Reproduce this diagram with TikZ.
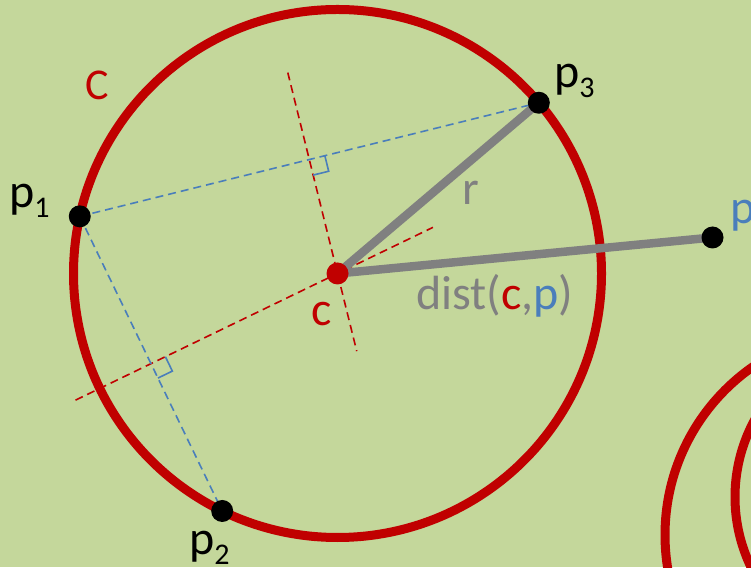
\documentclass[tikz,border=0pt]{standalone}
\usepackage{fontspec}
\setmainfont{Carlito}
\usetikzlibrary{calc}
\definecolor{bgc}{RGB}{196,215,155}
\definecolor{cred}{RGB}{192,0,0}
\definecolor{cblue}{RGB}{74,126,187}
\definecolor{cgray}{RGB}{128,128,128}
\newcommand\mysub[1]{\raisebox{-10pt}{\fontsize{30}{30}\selectfont #1}}
\pgfdeclarelayer{backlines}
\pgfsetlayers{backlines,main}
\begin{document}
\begin{tikzpicture}[x=1pt,y=1pt,
  bigcircle/.style={draw=cred,line width=9pt},
  bisector/.style={draw=cred,line width=1.6pt,dash pattern=on 8pt off 5pt},
  chord/.style={draw=cblue,line width=1.6pt,dash pattern=on 8pt off 5pt},
  rmark/.style={draw=cblue,line width=1.6pt},
  radiusline/.style={draw=cgray,line width=8.5pt},
  ptdot/.style={circle,fill=black,minimum size=22pt,inner sep=0pt},
  cdot/.style={circle,fill=cred,minimum size=22pt,inner sep=0pt},
  lbl/.style={font=\fontsize{48}{48}\selectfont,inner sep=0pt,anchor=base west}]
\useasboundingbox (0,0) rectangle (751,567);
\begin{pgfonlayer}{backlines}
\fill[bgc] (0,0) rectangle (751,567);
\end{pgfonlayer}
% geometry
\coordinate (c) at (337.5,293.5);
\coordinate (p1) at ($(c)+(167.5:264)$);
\coordinate (p2) at ($(c)+(244.1:264)$);
\coordinate (p3) at ($(c)+(40.3:264)$);
\coordinate (p) at (712.5,329.5);
\coordinate (m1) at ($(p1)!0.5!(p3)$);
\coordinate (m2) at ($(p1)!0.5!(p2)$);
\coordinate (b1a) at ($(c)!207pt!(m1)$);
\coordinate (b1b) at ($(c)!-80pt!(m1)$);
\coordinate (b2a) at ($(c)!291pt!(m2)$);
\coordinate (b2b) at ($(c)!-106pt!(m2)$);
% dots
\node[ptdot] (P1) at (p1) {};
\node[ptdot] (P2) at (p2) {};
\node[ptdot] (P3) at (p3) {};
\node[ptdot] (P) at (p) {};
\node[cdot] (C) at (c) {};
\begin{pgfonlayer}{backlines}
% circles
\draw[bigcircle] (c) circle (264);
\draw[bigcircle] (870,32) circle (205);
\draw[bigcircle] (896,70) circle (161);
% bisectors
\draw[bisector] (b1a) -- (b1b);
\draw[bisector] (b2a) -- (b2b);
% chords
\draw[chord] (P1.center) -- (P3.center);
\draw[chord] (P1.center) -- (P2.center);
% right angle marks
\coordinate (r1a) at ($(m1)!16pt!(p3)$);
\coordinate (r1c) at ($(m1)!16pt!(c)$);
\draw[rmark] (r1a) -- ($(r1a)+(r1c)-(m1)$) -- (r1c);
\coordinate (r2a) at ($(m2)!16pt!(p2)$);
\coordinate (r2c) at ($(m2)!16pt!(c)$);
\draw[rmark] (r2a) -- ($(r2a)+(r2c)-(m2)$) -- (r2c);
% radius and distance
\draw[radiusline] (C.center) -- (P3.center);
\draw[radiusline] (C.center) -- (P.center);
\end{pgfonlayer}
% labels
\node[lbl,text=cred,font=\fontsize{44}{44}\selectfont] (lC) at (85,467) {C};
\node[lbl] (lp1) at (9,359.6) {p\mysub{1}};
\node[lbl] (lp3) at (554,479.6) {p\mysub{3}};
\node[lbl] (lp2) at (189,13) {p\mysub{2}};
\node[lbl,text=cblue] (lp) at (730,343) {p};
\node[lbl,text=cred] (lc) at (311,241.3) {c};
\node[lbl,text=cgray] (lr) at (462,362) {r};
\node[lbl,text=cgray] (ld) at (416,257) {dist(\textcolor{cred}{c},\textcolor{cblue}{p})};
\end{tikzpicture}
\end{document}
